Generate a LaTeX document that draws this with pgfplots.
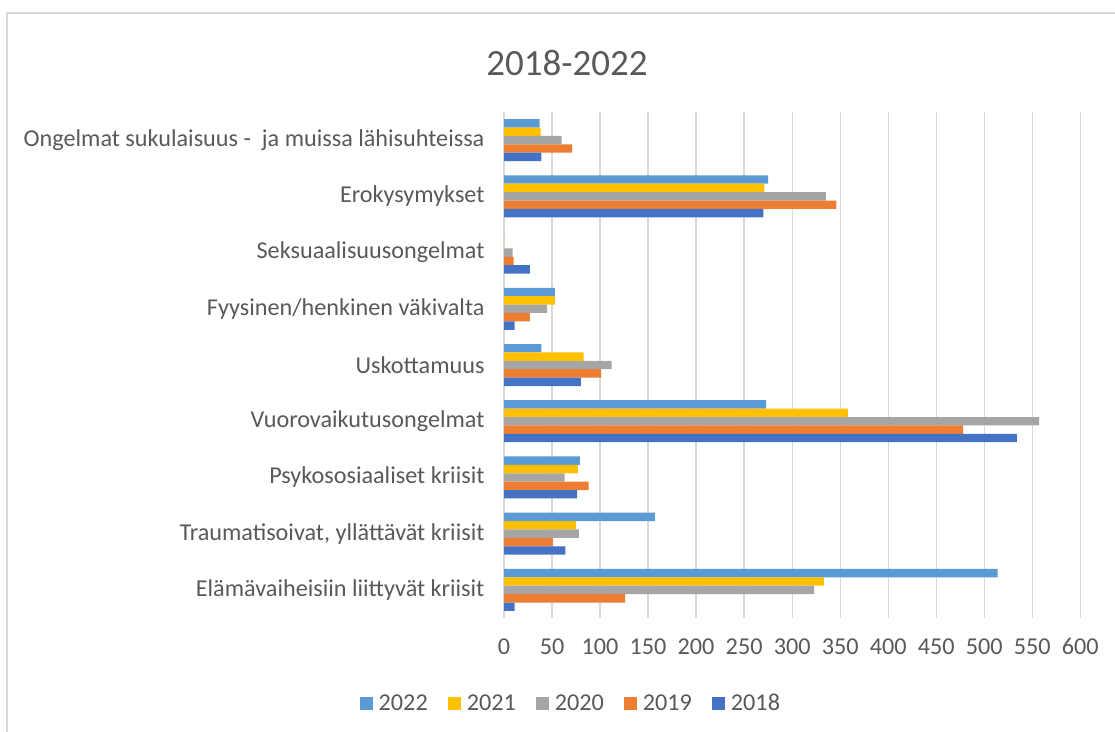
\documentclass[border=0pt]{standalone}
\usepackage{fontspec}
\setmainfont{Carlito}
\usepackage{pgfplots}
\pgfplotsset{compat=1.18}
\definecolor{c22}{HTML}{5B9BD5}
\definecolor{c21}{HTML}{FFC000}
\definecolor{c20}{HTML}{A5A5A5}
\definecolor{c19}{HTML}{ED7D31}
\definecolor{c18}{HTML}{4472C4}
\definecolor{txt}{HTML}{595959}
\definecolor{gridc}{HTML}{D9D9D9}
\begin{document}
\begin{tikzpicture}[x=1pt,y=1pt]
\path[use as bounding box] (0,-731) rectangle (1115,0);
\draw[gridc, line width=1.5pt] (6.75,-745) -- (6.75,-12.75) -- (1130,-12.75);
\node[text=txt, font=\fontsize{37}{44}\selectfont] at (567,-63) {2018-2022};
\begin{axis}[
  at={(504pt,-618pt)}, anchor=south west,
  scale only axis, width=576.3pt, height=506pt,
  xmin=0, xmax=600, ymin=-0.5, ymax=8.5,
  xtick={0,50,...,600},
  ytick={0,...,8},
  yticklabels={Elämävaiheisiin liittyvät kriisit, {Traumatisoivat, yllättävät kriisit}, Psykososiaaliset kriisit, Vuorovaikutusongelmat, Uskottamuus, Fyysinen/henkinen väkivalta, Seksuaalisuusongelmat, Erokysymykset, {Ongelmat sukulaisuus -\ \ ja muissa lähisuhteissa}},
  xmajorgrids, grid style={gridc, line width=1.3pt},
  axis line style={draw=none},
  major tick length=0pt,
  tick label style={text=txt, font=\fontsize{24.2}{28}\selectfont},
  /pgf/number format/assume math mode=true,
  yticklabel style={xshift=-16pt},
  xticklabel style={yshift=-17pt},
  xbar, bar width=8.4pt,
  legend columns=5,
  legend style={at={(0.116,-0.168)}, anchor=center, draw=none, fill=none,
    font=\fontsize{24.2}{28}\selectfont, text=txt,
    /tikz/every odd column/.append style={column sep=4pt},
    /tikz/every even column/.append style={column sep=18pt}},
  legend image code/.code={\fill[#1] (0pt,-6.5pt) rectangle (13pt,6.5pt);},
]
\addplot[fill=c22, draw=none, bar shift=16.8pt] coordinates {(514,0) (157,1) (79,2) (273,3) (39,4) (53,5) (0,6) (275,7) (37,8)};
\addplot[fill=c21, draw=none, bar shift=8.4pt] coordinates {(333,0) (75,1) (77,2) (358,3) (83,4) (53,5) (0,6) (271,7) (38,8)};
\addplot[fill=c20, draw=none, bar shift=0pt] coordinates {(323,0) (78,1) (63,2) (557,3) (112,4) (45,5) (9,6) (335,7) (60,8)};
\addplot[fill=c19, draw=none, bar shift=-8.4pt] coordinates {(126,0) (51,1) (88,2) (478,3) (101,4) (27,5) (10,6) (346,7) (71,8)};
\addplot[fill=c18, draw=none, bar shift=-16.8pt] coordinates {(11,0) (64,1) (76,2) (534,3) (80,4) (11,5) (27,6) (270,7) (39,8)};
\legend{2022,2021,2020,2019,2018}
\end{axis}
\end{tikzpicture}
\end{document}
